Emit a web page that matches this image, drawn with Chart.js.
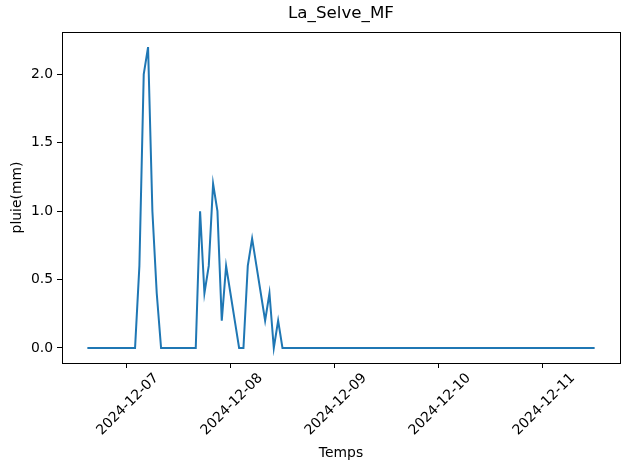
<!DOCTYPE html>
<html><head><meta charset="utf-8">
<script src="https://cdn.jsdelivr.net/npm/chart.js@4/dist/chart.umd.min.js"></script>
<style>html,body{margin:0;padding:0;background:#fff}#wrap{width:630px;height:469px}</style>
</head><body><div id="wrap"><canvas id="c" width="630" height="469"></canvas></div>
<script>
const chartTitle = "La_Selve_MF";
const xAxisLabel = "Temps";
const yAxisLabel = "pluie(mm)";
const startTime = "2024-12-06T15:00:00Z";   // first hourly reading
// hourly rainfall (mm)
const rainDec06 = [0,0,0,0,0,0,0,0,0];                                    // 15h-23h
const rainDec07 = [0,0,0,0.6,2.0,2.2,1.0,0.4,0,0,0,0,0,0,0,0,0,1.0,0.4,0.6,1.2,1.0,0.2,0.6];
const rainDec08 = [0.4,0.2,0,0,0.6,0.8,0.6,0.4,0.2,0.4,0,0.2,0,0,0,0,0,0,0,0,0,0,0,0];
const rainDec09 = [0,0,0,0,0,0,0,0,0,0,0,0,0,0,0,0,0,0,0,0,0,0,0,0];
const rainDec10 = [0,0,0,0,0,0,0,0,0,0,0,0,0,0,0,0,0,0,0,0,0,0,0,0];
const rainDec11 = [0,0,0,0,0,0,0,0,0,0,0,0,0];                            // 0h-12h
const xTickLabels = ["2024-12-07","2024-12-08","2024-12-09","2024-12-10","2024-12-11"];
const yTickValues = [0, 0.5, 1.0, 1.5, 2.0];

const HOUR = 3600000;
const rain = [].concat(rainDec06, rainDec07, rainDec08, rainDec09, rainDec10, rainDec11);
const t0 = Date.parse(startTime);
const points = rain.map((v, i) => ({x: t0 + i * HOUR, y: v}));
const tFirst = points[0].x, tLast = points[points.length - 1].x;
const span = tLast - tFirst;
const yMaxData = Math.max.apply(null, rain), yMinData = Math.min.apply(null, rain);
const ySpan = yMaxData - yMinData;

const FONT = "'DejaVu Sans', sans-serif";
const frame = {
  id: 'frame',
  afterDatasetsDraw(chart) {
    const {ctx, chartArea: a} = chart;
    ctx.save();
    ctx.strokeStyle = '#000';
    ctx.lineWidth = 1;
    ctx.strokeRect(Math.round(a.left) + 0.5, Math.round(a.top) + 0.5,
                   Math.round(a.right - a.left), Math.round(a.bottom - a.top));
    ctx.restore();
  }
};

new Chart(document.getElementById('c'), {
  type: 'line',
  data: {
    datasets: [{
      data: points,
      borderColor: '#1f77b4',
      borderWidth: 2,
      pointRadius: 0,
      tension: 0,
      fill: false
    }]
  },
  options: {
    responsive: false,
    animation: false,
    devicePixelRatio: 1,
    layout: {padding: {left: 0, right: 10, top: 0, bottom: 0}},
    plugins: {
      legend: {display: false},
      tooltip: {enabled: false},
      title: {
        display: true, text: chartTitle, color: '#000', fullSize: false,
        font: {family: FONT, size: 16.7, weight: 'normal'},
        padding: {top: 4, bottom: 8}
      }
    },
    scales: {
      x: {
        type: 'linear',
        min: tFirst - 0.05 * span,
        max: tLast + 0.05 * span,
        afterBuildTicks(s) { s.ticks = xTickLabels.map(d => ({value: Date.parse(d + "T00:00:00Z")})); },
        afterFit(s) { s.height = 106; },
        ticks: {
          autoSkip: false, maxRotation: 45, minRotation: 45,
          labelOffset: 30, padding: 2, color: '#000',
          font: {family: FONT, size: 13.9},
          callback: v => new Date(v).toISOString().slice(0, 10)
        },
        grid: {display: true, drawOnChartArea: false, drawTicks: true, tickLength: 5, tickColor: '#000'},
        border: {display: true, color: '#000', width: 1},
        title: {display: true, text: xAxisLabel, color: '#000', font: {family: FONT, size: 13.9}, padding: {top: 4, bottom: 7}}
      },
      y: {
        min: yMinData - 0.05 * ySpan,
        max: yMaxData + 0.05 * ySpan,
        afterBuildTicks(s) { s.ticks = yTickValues.map(v => ({value: v})); },
        afterFit(s) { s.width = 62; },
        ticks: {color: '#000', padding: 4, font: {family: FONT, size: 13.9}, callback: v => Number(v).toFixed(1)},
        grid: {display: true, drawOnChartArea: false, drawTicks: true, tickLength: 5, tickColor: '#000'},
        border: {display: true, color: '#000', width: 1},
        title: {display: true, text: yAxisLabel, color: '#000', font: {family: FONT, size: 13.9}, padding: {top: 9, bottom: 4}}
      }
    }
  },
  plugins: [frame]
});
</script></body></html>
